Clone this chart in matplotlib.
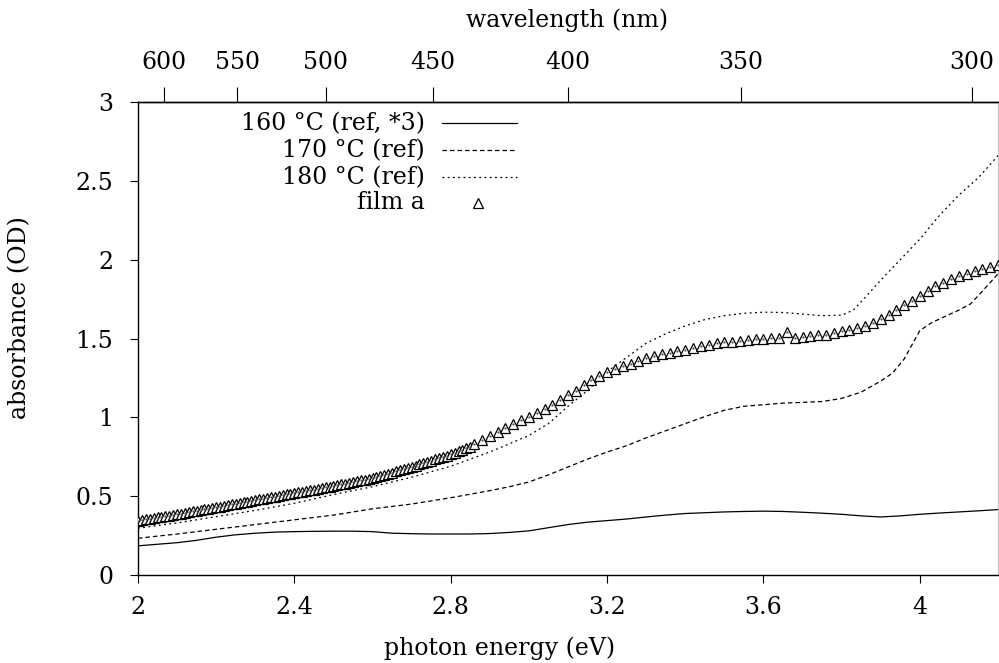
import numpy as np
import matplotlib
matplotlib.use("Agg")
import matplotlib.pyplot as plt
from matplotlib.ticker import FuncFormatter

# --- data --------------------------------------------------------------
e160 = [2.00, 2.05, 2.10, 2.15, 2.20, 2.25, 2.30, 2.35, 2.40, 2.45, 2.50, 2.55,
        2.60, 2.65, 2.70, 2.75, 2.80, 2.85, 2.90, 2.95, 3.00, 3.05, 3.10, 3.15,
        3.20, 3.25, 3.30, 3.35, 3.40, 3.45, 3.50, 3.55, 3.60, 3.65, 3.70, 3.75,
        3.80, 3.85, 3.90, 3.95, 4.00, 4.05, 4.10, 4.15, 4.20]
a160 = [0.185, 0.195, 0.205, 0.220, 0.240, 0.255, 0.265, 0.272, 0.275, 0.277,
        0.278, 0.278, 0.275, 0.265, 0.262, 0.260, 0.260, 0.260, 0.263, 0.270,
        0.280, 0.300, 0.320, 0.335, 0.345, 0.355, 0.368, 0.380, 0.390, 0.395,
        0.400, 0.403, 0.405, 0.403, 0.398, 0.392, 0.385, 0.375, 0.368, 0.375,
        0.385, 0.393, 0.400, 0.407, 0.415]

e170 = [2.00, 2.10, 2.20, 2.30, 2.40, 2.50, 2.60, 2.70, 2.80, 2.90, 2.95, 3.00,
        3.05, 3.10, 3.15, 3.20, 3.25, 3.30, 3.35, 3.40, 3.45, 3.50, 3.55, 3.60,
        3.65, 3.70, 3.75, 3.80, 3.85, 3.90, 3.93, 3.96, 4.00, 4.03, 4.06, 4.10,
        4.13, 4.16, 4.20]
a170 = [0.233, 0.260, 0.290, 0.320, 0.350, 0.380, 0.420, 0.450, 0.490, 0.535,
        0.560, 0.590, 0.635, 0.685, 0.735, 0.780, 0.820, 0.870, 0.915, 0.960,
        1.005, 1.045, 1.070, 1.080, 1.090, 1.095, 1.100, 1.120, 1.160, 1.230,
        1.280, 1.370, 1.550, 1.600, 1.635, 1.680, 1.720, 1.800, 1.910]

e180 = [2.00, 2.10, 2.20, 2.30, 2.40, 2.50, 2.60, 2.70, 2.80, 2.90, 3.00, 3.05,
        3.10, 3.15, 3.20, 3.25, 3.30, 3.35, 3.40, 3.45, 3.50, 3.55, 3.60, 3.65,
        3.70, 3.75, 3.80, 3.83, 3.86, 3.90, 3.95, 4.00, 4.05, 4.10, 4.15, 4.20]
a180 = [0.297, 0.330, 0.370, 0.410, 0.455, 0.510, 0.560, 0.620, 0.690, 0.780,
        0.885, 0.960, 1.070, 1.170, 1.290, 1.380, 1.470, 1.530, 1.580, 1.620,
        1.645, 1.660, 1.667, 1.665, 1.655, 1.645, 1.648, 1.680, 1.760, 1.870,
        2.000, 2.130, 2.280, 2.410, 2.520, 2.660]

film_energy = [
    2.00, 2.01, 2.02, 2.03, 2.04, 2.05, 2.06, 2.07, 2.08, 2.09,
    2.10, 2.11, 2.12, 2.13, 2.14, 2.15, 2.16, 2.17, 2.18, 2.19,
    2.20, 2.21, 2.22, 2.23, 2.24, 2.25, 2.26, 2.27, 2.28, 2.29,
    2.30, 2.31, 2.32, 2.33, 2.34, 2.35, 2.36, 2.37, 2.38, 2.39,
    2.40, 2.41, 2.42, 2.43, 2.44, 2.45, 2.46, 2.47, 2.48, 2.49,
    2.50, 2.51, 2.52, 2.53, 2.54, 2.55, 2.56, 2.57, 2.58, 2.59,
    2.60, 2.61, 2.62, 2.63, 2.64, 2.65, 2.66, 2.67, 2.68, 2.69,
    2.70, 2.71, 2.72, 2.73, 2.74, 2.75, 2.76, 2.77, 2.78, 2.79,
    2.80, 2.81, 2.82, 2.83, 2.84, 2.85,
    2.86, 2.88, 2.90, 2.92, 2.94, 2.96, 2.98, 3.00,
    3.02, 3.04, 3.06, 3.08, 3.10, 3.12, 3.14, 3.16, 3.18, 3.20,
    3.22, 3.24, 3.26, 3.28, 3.30, 3.32, 3.34, 3.36, 3.38, 3.40,
    3.42, 3.44, 3.46, 3.48, 3.50, 3.52, 3.54, 3.56, 3.58, 3.60,
    3.62, 3.64, 3.66, 3.68, 3.70, 3.72, 3.74, 3.76, 3.78, 3.80,
    3.82, 3.84, 3.86, 3.88, 3.90, 3.92, 3.94, 3.96, 3.98, 4.00,
    4.02, 4.04, 4.06, 4.08, 4.10, 4.12, 4.14, 4.16, 4.18, 4.20]
film_abs = [
    0.345, 0.349, 0.353, 0.357, 0.361, 0.365, 0.369, 0.373, 0.377, 0.381,
    0.385, 0.389, 0.394, 0.398, 0.403, 0.407, 0.412, 0.416, 0.421, 0.425,
    0.430, 0.434, 0.439, 0.443, 0.448, 0.452, 0.457, 0.461, 0.466, 0.470,
    0.475, 0.479, 0.484, 0.488, 0.493, 0.497, 0.502, 0.506, 0.511, 0.515,
    0.520, 0.524, 0.529, 0.533, 0.538, 0.542, 0.547, 0.551, 0.556, 0.560,
    0.565, 0.570, 0.575, 0.580, 0.585, 0.590, 0.595, 0.600, 0.605, 0.610,
    0.615, 0.622, 0.629, 0.636, 0.643, 0.650, 0.657, 0.664, 0.671, 0.678,
    0.685, 0.693, 0.701, 0.709, 0.717, 0.725, 0.733, 0.741, 0.749, 0.757,
    0.765, 0.775, 0.785, 0.795, 0.805, 0.815,
    0.830, 0.855, 0.880, 0.905, 0.930, 0.955, 0.980, 1.000,
    1.025, 1.050, 1.080, 1.110, 1.140, 1.170, 1.205, 1.235, 1.260, 1.285,
    1.305, 1.325, 1.340, 1.360, 1.375, 1.390, 1.400, 1.410, 1.420, 1.430,
    1.440, 1.450, 1.460, 1.470, 1.475, 1.480, 1.485, 1.490, 1.495, 1.500,
    1.505, 1.505, 1.540, 1.505, 1.510, 1.515, 1.520, 1.525, 1.535, 1.545,
    1.555, 1.565, 1.580, 1.600, 1.625, 1.650, 1.680, 1.710, 1.740, 1.770,
    1.800, 1.830, 1.855, 1.875, 1.895, 1.910, 1.925, 1.940, 1.955, 1.965]

x_ticks = [2, 2.4, 2.8, 3.2, 3.6, 4]
y_ticks = [0, 0.5, 1, 1.5, 2, 2.5, 3]
wl_ticks = [600, 550, 500, 450, 400, 350, 300]
labels = ["160 °C (ref, *3)", "170 °C (ref)", "180 °C (ref)", "film a"]

HC = 1239.84


def ev_to_nm(e):
    e = np.asarray(e, dtype=float)
    with np.errstate(divide="ignore"):
        return HC / e


plt.rcParams["font.family"] = "DejaVu Serif"
plt.rcParams["font.size"] = 17

fig = plt.figure(figsize=(9.99, 6.63), dpi=100)
ax = fig.add_axes([138 / 999, 88 / 663, 860 / 999, 473 / 663])

dash = (0, (3.6, 2.4))
dots = (0, (1.5, 2.7))
tri = dict(marker="^", ms=7.4, mfc="white", mec="black", mew=0.9, linestyle="none")
ax.plot(e160, a160, color="black", lw=0.9)
ax.plot(e170, a170, color="black", lw=0.9, linestyle=dash)
ax.plot(e180, a180, color="black", lw=0.9, linestyle=dots)
ax.plot(film_energy, film_abs, zorder=3, **tri)
ax.plot(film_energy, film_abs, linestyle="none", marker=".", ms=1.2,
        color="0.3", zorder=4)

ax.set_xlim(2, 4.2)
ax.set_ylim(0, 3)
ax.set_xticks(x_ticks)
ax.set_yticks(y_ticks)
fmt = FuncFormatter(lambda v, p: f"{v:g}")
ax.xaxis.set_major_formatter(fmt)
ax.yaxis.set_major_formatter(fmt)
ax.tick_params(direction="out", length=5.8, width=0.8)
ax.tick_params(axis="x", pad=9, top=False)
ax.tick_params(axis="y", pad=12)
for s in ["left", "bottom", "top"]:
    ax.spines[s].set_linewidth(1.0)
ax.spines["right"].set_color("0.75")
ax.spines["right"].set_linewidth(0.8)

sec = ax.secondary_xaxis("top", functions=(ev_to_nm, ev_to_nm))
sec.set_xticks(wl_ticks)
sec.xaxis.set_major_formatter(fmt)
sec.tick_params(direction="out", length=10.8, width=0.8, pad=9)
sec.spines["top"].set_linewidth(1.0)

# key, gnuplot style: labels right aligned, sample to the right
row_y = [0.955, 0.898, 0.8405, 0.7875]
styles = ["-", dash, dots]
for i, lab in enumerate(labels):
    ax.text(0.3337, row_y[i], lab, transform=ax.transAxes, ha="right", va="center")
    if i < 3:
        ax.plot([0.3535, 0.4407], [row_y[i], row_y[i]], transform=ax.transAxes,
                color="black", lw=0.9, linestyle=styles[i])
    else:
        ax.plot([0.395], [row_y[i]], transform=ax.transAxes, **tri)

fig.text(500 / 999, 1 - 648 / 663, "photon energy (eV)", ha="center", va="center")
fig.text(567 / 999, 1 - 20 / 663, "wavelength (nm)", ha="center", va="center")
fig.text(20 / 999, 1 - 318 / 663, "absorbance (OD)", rotation=90,
         ha="center", va="center")

fig.savefig("out.png", dpi=100)
